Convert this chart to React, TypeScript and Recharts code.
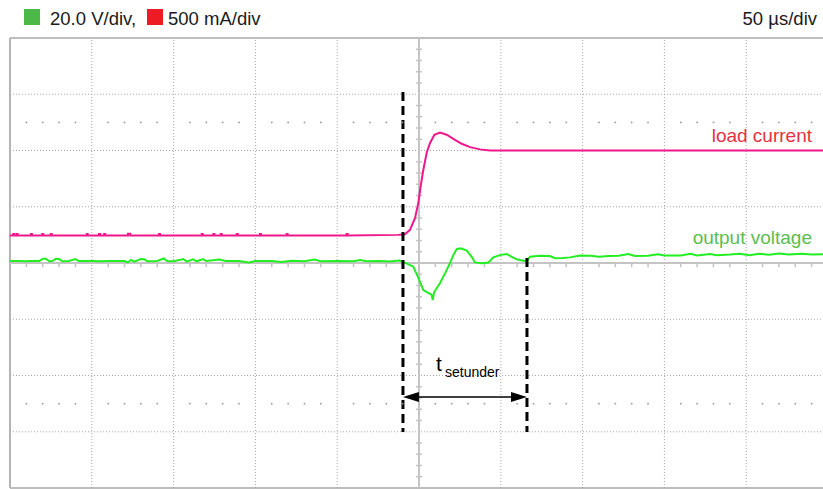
import React from 'react';
import { ComposedChart, Line, XAxis, YAxis, ReferenceLine, ReferenceDot } from 'recharts';

// time in µs (50 µs/div, 10 div), current in mA (500 mA/div), voltage in V (20 V/div)
const timeGrid = [50, 100, 150, 200, 300, 350, 400, 450];
const voltGrid = [-60, -40, -20, 20, 40, 60];
const minorTimes = [
  10, 20, 30, 40, 60, 70, 80, 90, 110, 120, 130, 140, 160, 170, 180, 190, 210, 220, 230, 240,
  260, 270, 280, 290, 310, 320, 330, 340, 360, 370, 380, 390, 410, 420, 430, 440, 460, 470, 480, 490,
];
const minorVolts = [
  -76, -72, -68, -64, -56, -52, -48, -44, -36, -32, -28, -24, -16, -12, -8, -4,
  4, 8, 12, 16, 24, 28, 32, 36, 44, 48, 52, 56, 64, 68, 72, 76,
];

const currentTrace: [number, number][] = [
  [0, 245], [2.0, 245], [2.0, 258], [2.6, 258], [2.6, 245],
  [4.1, 245], [4.1, 258], [4.7, 258], [4.7, 245],
  [12.8, 245], [12.8, 258], [13.4, 258], [13.4, 245],
  [19.7, 245], [19.7, 258], [20.3, 258], [20.3, 245],
  [24.9, 245], [24.9, 258], [25.5, 258], [25.5, 245],
  [46.9, 245], [46.9, 258], [47.5, 258], [47.5, 245],
  [54.4, 245], [54.4, 258], [55.0, 258], [55.0, 245],
  [57.6, 245], [57.6, 258], [58.2, 258], [58.2, 245],
  [72.1, 245], [72.1, 260], [73.5, 260], [73.5, 245],
  [91.1, 245], [91.1, 258], [91.7, 258], [91.7, 245],
  [117.2, 245], [117.2, 258], [117.8, 258], [117.8, 245],
  [124.3, 245], [124.3, 258], [124.9, 258], [124.9, 245],
  [128.8, 245], [128.8, 258], [129.4, 258], [129.4, 245],
  [138.6, 245], [138.6, 258], [139.2, 258], [139.2, 245],
  [152.8, 245], [152.8, 258], [153.4, 258], [153.4, 245],
  [169.1, 245], [169.1, 258], [169.7, 258], [169.7, 245],
  [205.8, 245], [205.8, 258], [206.4, 258], [206.4, 245],
  [237.2, 250], [241.4, 255], [244.5, 295], [247.6, 400], [249.6, 535], [251.0, 680],
  [252.6, 825], [254.7, 980], [256.7, 1065], [259.4, 1140], [262.8, 1160], [266.9, 1140],
  [272.0, 1095], [276.1, 1060], [281.2, 1030], [287.3, 1010], [293.4, 1000], [500, 1000],
];

const voltageTrace: [number, number][] = [
  [0, 0.7], [6, 0.7], [9, 0.6], [12, 0.7], [18, 0.7], [20, 1.5], [22, 1.5], [24, 0.6], [26, 0.7],
  [28, 1.5], [30, 1.4], [32, 0.6], [36, 0.7], [40, 1.4], [42, 0.7], [50, 0.7], [56, 0.6], [60, 0.7],
  [70, 0.7], [72, 0.2], [74, 1.1], [76, 0.5], [80, 1.4], [82, 1.3], [84, 0.6], [90, 0.7], [94, 1.6],
  [96, 0.7], [100, 0.6], [106, 1.4], [108, 0.5], [112, 1.3], [114, 0.6], [118, 1.4], [120, 0.7],
  [128, 1.2], [132, 0.7], [140, 0.7], [146, 0.2], [150, 0.7], [160, 0.7], [166, 0.4], [172, 0.8],
  [180, 0.6], [186, 1.2], [190, 0.6], [200, 0.7], [210, 0.6], [214, 1.1], [218, 0.6], [226, 0.7],
  [232, 0.5], [238, 0.9], [240.4, 0.4],
  [246.5, -1.3], [249.6, -5.3], [252.6, -9.6], [255.7, -10.6], [257.6, -11.2], [258.4, -13.2],
  [259.2, -10.4], [262.8, -7.2], [265.9, -3.7], [268.9, -0.1], [271.0, 2.8], [273.0, 4.9],
  [275.5, 5.2], [279.2, 4.4], [282.2, 2.2], [284.2, 0.2], [288.3, -0.1], [292.4, 0.2], [295.4, 2.0],
  [299.5, 2.8], [303.6, 3.2], [306.7, 2.2], [309.7, 1.3], [313.8, 0.8], [316.0, 0.8], [317.8, 2.2],
  [324, 2.6], [330, 2.5], [333.1, 1.7], [338, 1.8], [342.3, 2.0], [348.4, 2.7], [355, 2.6],
  [360, 2.2], [366, 2.5], [372, 2.6], [378, 3.2], [382, 2.5], [390, 2.6], [396, 3.1], [400, 2.7],
  [410, 2.7], [416, 3.3], [420, 2.7], [428, 3.2], [432, 2.8], [440, 3.0], [446, 3.3], [452, 2.8],
  [458, 3.3], [464, 2.9], [470, 3.4], [476, 3.0], [484, 3.3], [490, 3.0], [500, 3.2],
];

// markers: load step start and settling point
const stepStart = 240.2;
const settleTime = 316.0;

const currentData = currentTrace.map(([t, i]) => ({ t, i }));
const voltageData = voltageTrace.map(([t, v]) => ({ t, v }));

const GRID = '#a8a8a8';
const AXIS = '#c4c4c4';

const ArrowShape = (props: any) => {
  const { x1, y1, x2, y2 } = props;
  const L = 16;
  const H = 5;
  return (
    <g>
      <line x1={x1 + L} y1={y1} x2={x2 - L} y2={y2} stroke="#000" strokeWidth={1.5} />
      <polygon points={`${x1},${y1} ${x1 + L},${y1 - H} ${x1 + L},${y1 + H}`} fill="#000" />
      <polygon points={`${x2},${y2} ${x2 - L},${y2 - H} ${x2 - L},${y2 + H}`} fill="#000" />
    </g>
  );
};

const App: React.FC = () => {
  return (
    <div
      style={{
        position: 'absolute',
        left: 0,
        top: 0,
        width: 823,
        height: 489,
        overflow: 'hidden',
        background: '#fff',
        fontFamily: '"Liberation Sans", Arial, sans-serif',
      }}
    >
      <ComposedChart width={840} height={489} margin={{ top: 38, right: 12, bottom: 1, left: 10 }}>
        <XAxis dataKey="t" type="number" domain={[0, 500]} hide allowDataOverflow />
        <YAxis yAxisId="v" type="number" domain={[-80, 80]} hide allowDataOverflow />
        <YAxis yAxisId="i" type="number" domain={[-2000, 2000]} hide allowDataOverflow />

        {/* frame */}
        <ReferenceLine yAxisId="v" x={0} stroke="#b4b4b4" strokeWidth={2} />
        <ReferenceLine yAxisId="v" y={80} stroke="#bdbdbd" strokeWidth={2} />
        <ReferenceLine yAxisId="v" y={-80} stroke="#bdbdbd" strokeWidth={2} />

        {/* graticule */}
        {timeGrid.map((t) => (
          <ReferenceLine key={`gx${t}`} yAxisId="v" x={t} stroke={GRID} strokeDasharray="1 2" />
        ))}
        {voltGrid.map((v) => (
          <ReferenceLine key={`gy${v}`} yAxisId="v" y={v} stroke={GRID} strokeDasharray="1 2" />
        ))}
        <ReferenceLine yAxisId="v" x={250} stroke={AXIS} strokeWidth={2} />
        <ReferenceLine yAxisId="v" y={0} stroke={AXIS} strokeWidth={2} />
        {minorTimes.map((t) => (
          <ReferenceLine
            key={`tx${t}`}
            yAxisId="v"
            segment={[{ x: t, y: 0 }, { x: t, y: -1.5 }]}
            stroke={AXIS}
            strokeWidth={1.5}
          />
        ))}
        {minorVolts.map((v) => (
          <ReferenceLine
            key={`ty${v}`}
            yAxisId="v"
            segment={[{ x: 248.2, y: v }, { x: 251.8, y: v }]}
            stroke={AXIS}
            strokeWidth={1.5}
          />
        ))}
        {minorTimes.map((t) => (
          <ReferenceDot key={`du${t}`} yAxisId="v" x={t} y={50} r={0.9} fill="#9a9a9a" stroke="none" />
        ))}
        {minorTimes.map((t) => (
          <ReferenceDot key={`dd${t}`} yAxisId="v" x={t} y={-50} r={0.9} fill="#9a9a9a" stroke="none" />
        ))}

        {/* traces */}
        <Line
          data={currentData}
          yAxisId="i"
          dataKey="i"
          type="linear"
          stroke="#f0168c"
          strokeWidth={2}
          dot={false}
          isAnimationActive={false}
        />
        <Line
          data={voltageData}
          yAxisId="v"
          dataKey="v"
          type="linear"
          stroke="#22ee22"
          strokeWidth={2}
          dot={false}
          isAnimationActive={false}
        />

        {/* timing markers */}
        <ReferenceLine
          yAxisId="v"
          segment={[{ x: stepStart, y: 60.8 }, { x: stepStart, y: -60.1 }]}
          stroke="#000"
          strokeWidth={3}
          strokeDasharray="9 5"
        />
        <ReferenceLine
          yAxisId="v"
          segment={[{ x: settleTime, y: 1.8 }, { x: settleTime, y: -60.1 }]}
          stroke="#000"
          strokeWidth={3}
          strokeDasharray="9 5"
        />
        <ReferenceLine
          yAxisId="v"
          segment={[{ x: stepStart, y: -47.6 }, { x: settleTime, y: -47.6 }]}
          shape={ArrowShape}
        />
      </ComposedChart>

      <svg
        width={823}
        height={489}
        style={{ position: 'absolute', left: 0, top: 0, pointerEvents: 'none' }}
        fontFamily='"Liberation Sans", Arial, sans-serif'
      >
        <rect x={24} y={9} width={16} height={16} fill="#4cb848" />
        <text x={50} y={25} fontSize={18.5} fill="#1a1a1a">20.0 V/div,</text>
        <rect x={147} y={9} width={16} height={16} fill="#ed1c24" />
        <text x={168} y={25} fontSize={18.5} fill="#1a1a1a">500 mA/div</text>
        <text x={817} y={25} fontSize={18.5} fill="#1a1a1a" textAnchor="end">50 µs/div</text>
        <text x={812} y={142} fontSize={19} fill="#e8323e" textAnchor="end">load current</text>
        <text x={812} y={243.5} fontSize={19} fill="#5cbd4f" textAnchor="end">output voltage</text>
        <text x={436} y={371} fontSize={21} fill="#000">t</text>
        <text x={445} y={377} fontSize={14} fill="#000">setunder</text>
      </svg>
    </div>
  );
};

export default App;
